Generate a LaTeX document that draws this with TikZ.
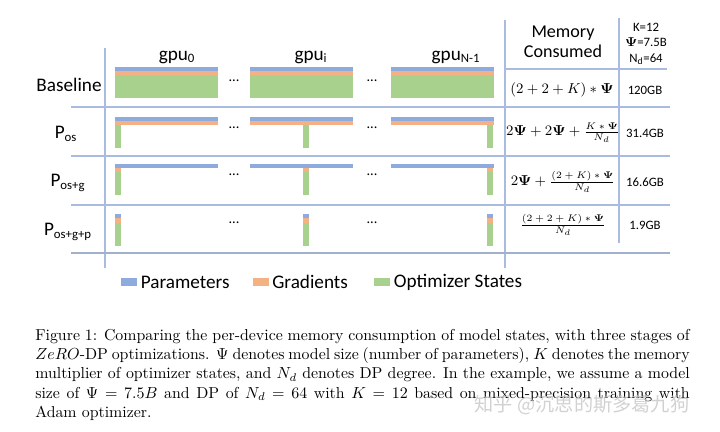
\documentclass[tikz,border=0pt]{standalone}
\usepackage{amsmath,amssymb}
\usepackage{fontspec}
\newfontfamily\diagfont{Carlito}
\newfontfamily\cjkfont{Noto Sans CJK SC}
\usetikzlibrary{positioning}
\definecolor{paramblue}{HTML}{8FAADC}
\definecolor{gradorange}{HTML}{F4B183}
\definecolor{optgreen}{HTML}{A9D18E}
\definecolor{gridblue}{HTML}{A9BCE0}
\newcommand{\bPsi}{\boldsymbol{\Psi}}
\newcommand{\fracpart}[1]{\mbox{\fontsize{5.7}{6.5}\selectfont$#1$}}
\newcommand{\capline}[1]{\makebox[409pt][s]{#1}}

\tikzset{
  gridline/.style={draw=gridblue,line width=0.7pt},
  rowlabel/.style={font=\diagfont\fontsize{12}{14}\selectfont,inner sep=0pt},
  gpulabel/.style={font=\diagfont\fontsize{12}{14}\selectfont,inner sep=0pt},
  dotlabel/.style={font=\diagfont\fontsize{9}{9}\selectfont,inner sep=0pt,anchor=base},
  formula/.style={font=\fontsize{9}{11}\selectfont,inner sep=0pt},
  gblabel/.style={font=\diagfont\fontsize{8}{10}\selectfont,inner sep=0pt},
  keybox/.style={minimum width=10pt,minimum height=4.4pt,inner sep=0pt},
  keytext/.style={font=\diagfont\fontsize{12}{14}\selectfont,inner sep=0pt},
}

\begin{document}
\begin{tikzpicture}[x=0.625pt,y=-0.625pt]
	\useasboundingbox (0,0) rectangle (720,431);
	% table lines
	\draw[gridline] (105,48) -- (105,268);
	\draw[gridline] (505,20) -- (505,268);
	\draw[gridline] (619,18) -- (619,243);
	\draw[gridline] (505,69) -- (667,69);
	\foreach \ly in {107,156,205}
		\draw[gridline] (71,\ly) -- (670,\ly);
	\draw[gridline,line width=1.1pt,draw=gridblue!80!gray] (71,253) -- (670,253);
	
	% column heads
	\node[gpulabel] (gpu0) at (177,57) {gpu\textsubscript{0}};
	\node[gpulabel] (gpui) at (311,57) {gpu\textsubscript{i}};
	\node[gpulabel] (gpun) at (456,57) {gpu\textsubscript{N-1}};
	\node[font=\diagfont\fontsize{11.3}{12.5}\selectfont,align=center,inner sep=0pt] (memhead) at (563,42) {Memory\\Consumed};
	\node[font=\diagfont\fontsize{8}{9.4}\selectfont,align=center,inner sep=0pt] (setting) at (646,44) {K=12\\$\bPsi$=7.5B\\N\textsubscript{d}=64};
	
	% row heads
	\node[rowlabel] (base) at (69,85) {Baseline};
	\node[rowlabel] (pos) at (66,134) {P\textsubscript{os}};
	\node[rowlabel] (posg) at (68,183) {P\textsubscript{os+g}};
	\node[rowlabel] (posgp) at (68,232) {P\textsubscript{os+g+p}};
	
	% memory per gpu
	\foreach \gx/\sx in {115/115,250/302.5,390.5/487}{
		% baseline
		\fill[paramblue] (\gx,66.7) rectangle ++(103,4.3);
		\fill[gradorange] (\gx,71) rectangle ++(103,4.3);
		\fill[optgreen] (\gx,75.3) rectangle ++(103,22.7);
		% os
		\fill[paramblue] (\gx,116.7) rectangle ++(103,4.3);
		\fill[gradorange] (\gx,121) rectangle ++(103,4);
		\fill[optgreen] (\sx,125) rectangle ++(6,22.6);
		% os+g
		\fill[paramblue] (\gx,164) rectangle ++(103,4);
		\fill[gradorange] (\sx,168) rectangle ++(6,4);
		\fill[optgreen] (\sx,172) rectangle ++(6,23);
		% os+g+p
		\fill[paramblue] (\sx,214) rectangle ++(6,4.3);
		\fill[gradorange] (\sx,218.3) rectangle ++(6,4.4);
		\fill[optgreen] (\sx,222.7) rectangle ++(6,23.3);
	}
	\foreach \dy in {81,128,175,223}{
		\node[dotlabel] (dl\dy) at (234,\dy) {...};
		\node[dotlabel] (dr\dy) at (372,\dy) {...};
	}
	
	% formulas
	\node[formula] (f1) at (562,90) {$(2+2+K)*\bPsi$};
	\node[formula] (f2) at (563,133) {$2\bPsi+2\bPsi+\frac{\fracpart{K*\bPsi}}{\fracpart{N_d}}$};
	\node[formula] (f3) at (563,182) {$2\bPsi+\frac{\fracpart{(2+K)*\bPsi}}{\fracpart{N_d}}$};
	\node[formula] (f4) at (563,225) {$\frac{\fracpart{(2+2+K)*\bPsi}}{\fracpart{N_d}}$};
	\node[gblabel] (g1) at (645,90) {120GB};
	\node[gblabel] (g2) at (645,133) {31.4GB};
	\node[gblabel] (g3) at (645,182) {16.6GB};
	\node[gblabel] (g4) at (645,225) {1.9GB};
	
	% legend
	\node[keybox,fill=paramblue] (kparam) at (129,282) {};
	\node[keytext,right=2pt of kparam] (tparam) {Parameters};
	\node[keybox,fill=gradorange] (kgrad) at (260.5,282) {};
	\node[keytext,right=2pt of kgrad] (tgrad) {Gradients};
	\node[keybox,fill=optgreen] (kopt) at (382,282) {};
	\node[keytext,right=2pt of kopt] (topt) {Optimizer States};
	
	% caption
	\node[anchor=north west,align=left,inner sep=0pt,font=\fontsize{9.9}{12}\selectfont] (cap) at (35,329) {%
		\capline{Figure 1: Comparing the per-device memory consumption of model states, with three stages of}\\
		\capline{$ZeRO$-DP optimizations. $\Psi$ denotes model size (number of parameters), $K$ denotes the memory}\\
		\capline{multiplier of optimizer states, and $N_d$ denotes DP degree. In the example, we assume a model}\\
		\capline{size of $\Psi = 7.5B$ and DP of $N_d = 64$ with $K = 12$ based on mixed-precision training with}\\
		Adam optimizer.};
	\node[font=\cjkfont\fontsize{12}{14}\selectfont,text=gray!45,opacity=0.8] (mark) at (582,405) {知乎 @沉思的斯多葛九狗};
\end{tikzpicture}
\end{document}
